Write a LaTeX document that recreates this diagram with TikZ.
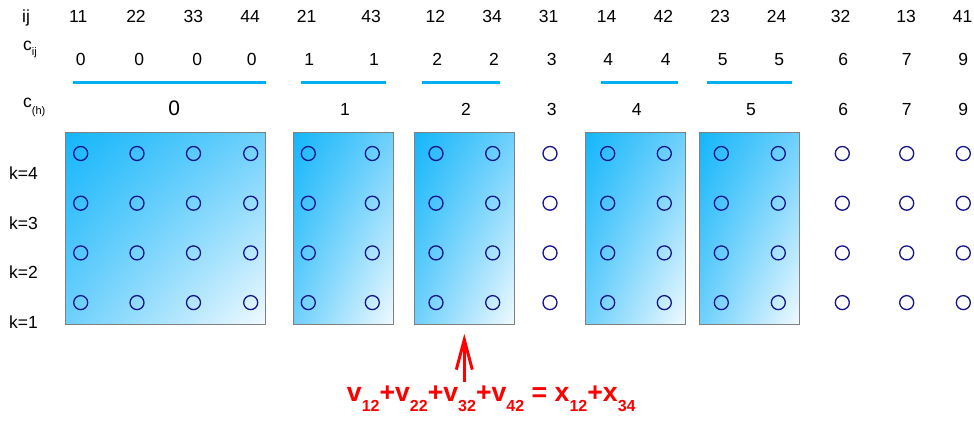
\documentclass[tikz,border=0pt]{standalone}
\usepackage{fontspec}
\setmainfont{Liberation Sans}
\usetikzlibrary{arrows.meta,shadings}
\definecolor{barblue}{RGB}{0,176,240}
\definecolor{boxA}{RGB}{20,182,250}
\definecolor{boxB}{RGB}{110,208,252}
\definecolor{boxC}{RGB}{240,250,255}
\definecolor{ringblue}{RGB}{20,20,140}
\newcommand\lowsub[2]{\raisebox{-#1pt}{\fontsize{11}{12}\selectfont #2}}
\newcommand\fsub[1]{\raisebox{-10pt}{\fontsize{16}{18}\selectfont #1}}
\begin{document}
\begin{tikzpicture}[x=1pt,y=-1pt,
  lbl/.style={inner sep=0pt, anchor=base, font=\fontsize{17.5}{20}\selectfont},
  side/.style={inner sep=0pt, anchor=base west, font=\fontsize{17.5}{20}\selectfont},
  grp/.style={draw=gray, line width=1pt, inner sep=0pt, minimum height=192pt,
    upper left=boxA, upper right=boxB, lower left=boxB, lower right=boxC},
  ring/.style={circle, draw=ringblue, line width=1.3pt, minimum size=14pt, inner sep=0pt},
  bar/.style={draw=barblue, line width=3pt},
  arr/.style={draw=red, line width=3pt, -{Straight Barb[length=30pt,width=16pt]}}
]
\fill[white] (0,0) rectangle (974,421);
\useasboundingbox (0,0) rectangle (974,421);

% group boxes
\node[grp, minimum width=200pt] (box0) at (165.7,228.3) {};
\node[grp, minimum width=100pt] (box1) at (343.3,228.3) {};
\node[grp, minimum width=100pt] (box2) at (464.3,228.3) {};
\node[grp, minimum width=100pt] (box4) at (635.7,228.3) {};
\node[grp, minimum width=100pt] (box5) at (749.7,228.3) {};

% circles
\foreach \x [count=\i] in {80.7,137,193.5,250.7,308.3,372.3,436,492.7,550,607.7,664.3,721.3,778.3,842.3,906.7,963.3}{
  \foreach \y [count=\j] in {153.5,203.2,252.9,302.6}{
    \node[ring] (c\i-\j) at (\x,\y) {};
  }
}

% row headers
\node[side] (hij) at (22,22) {ij};
\node[side] (hcij) at (23,50) {c\lowsub{5}{ij}};
\node[side] (hch) at (23,107) {c\lowsub{7.5}{(h)}};
\node[side] (k4) at (9,179.3) {k=4};
\node[side] (k3) at (9,229) {k=3};
\node[side] (k2) at (9,278.5) {k=2};
\node[side] (k1) at (9,328) {k=1};

% ij row
\foreach \x/\t [count=\n] in {78.3/11,136/22,193.3/33,250/44,306.7/21,371/43,435.3/12,492/34,548.7/31,606.7/14,663.3/42,720/23,776.7/24,840.7/32,906/13,962.7/41}{
  \node[lbl] (ij\n) at (\x,22) {\t};
}
% c_ij row
\foreach \x/\t [count=\n] in {80.7/0,139.3/0,197.3/0,251.7/0,309.3/1,374/1,437.3/2,494/2,551.7/3,608.3/4,665.7/4,722.7/5,779.3/5,843.3/6,906.7/7,963.3/9}{
  \node[lbl] (cv\n) at (\x,65.5) {\t};
}
% c_(h) row
\node[lbl, font=\fontsize{21}{24}\selectfont] (h0) at (174.3,115) {0};
\foreach \x/\t in {345/1,466/2,551.7/3,636.7/4,751/5,843.3/6,906.7/7,963.3/9}{
  \node[lbl] (h\t) at (\x,115) {\t};
}

% blue bars
\draw[bar] (72.7,82.7) -- (265.7,82.7);
\draw[bar] (301,82.7) -- (386,82.7);
\draw[bar] (422.3,82.7) -- (500,82.7);
\draw[bar] (600.7,82.7) -- (678.3,82.7);
\draw[bar] (707.3,82.7) -- (792.3,82.7);

% formula and arrow
\node[inner sep=0pt, anchor=base west, text=red,
  font=\fontsize{26.7}{30}\selectfont\bfseries] (formula) at (346.7,401.7)
  {v\fsub{12}+v\fsub{22}+v\fsub{32}+v\fsub{42} = x\fsub{12}+x\fsub{34}};
\coordinate (atail) at (464.3,382);
\draw[arr] (atail) -- ([yshift=-9pt]box2.south);
\end{tikzpicture}
\end{document}
